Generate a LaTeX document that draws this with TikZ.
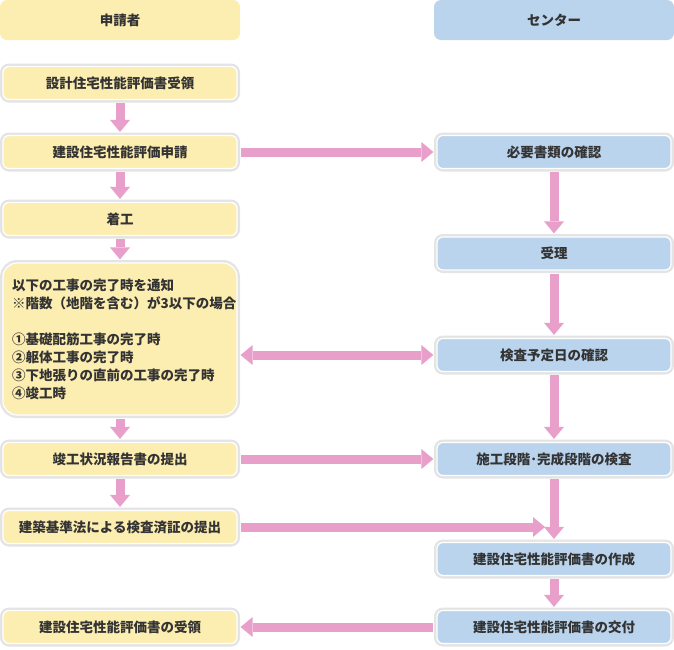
\documentclass[tikz,border=0pt]{standalone}
\usepackage{fontspec}
\setmainfont{Noto Sans CJK JP}
\usetikzlibrary{arrows.meta}
\definecolor{yel}{HTML}{FCEDB1}
\definecolor{blu}{HTML}{BAD4EE}
\definecolor{gry}{HTML}{E4E4E4}
\definecolor{pnk}{HTML}{E8A0CA}
\definecolor{txt}{HTML}{333333}
\begin{document}
\begin{tikzpicture}[x=1pt,y=-1pt,
  every node/.style={font=\fontsize{13.5}{18}\selectfont\bfseries, text=txt},
  hdr/.style={rounded corners=7pt, minimum width=240pt, minimum height=40pt, inner sep=0pt},
  box/.style={rounded corners=6pt, minimum width=234pt, minimum height=33pt, inner sep=0pt, draw=white, line width=1.2pt, preaction={draw=gry, line width=6pt}},
  ybox/.style={box, fill=yel},
  bbox/.style={box, fill=blu},
  flow/.style={draw=pnk, line width=9pt, -{Triangle[width=20pt,length=12pt,line width=0pt]}, shorten <=3pt, shorten >=3pt},
  flow2/.style={draw=pnk, line width=9pt, {Triangle[width=20pt,length=12pt,line width=0pt]}-{Triangle[width=20pt,length=12pt,line width=0pt]}, shorten <=3pt, shorten >=3pt},
]
\useasboundingbox (0,0) rectangle (674,649);
% headers
\node[hdr, fill=yel] (h1) at (120,20) {申請者};
\node[hdr, fill=blu] (h2) at (554,20) {センター};
% left column
\node[ybox] (L1) at (120,83) {設計住宅性能評価書受領};
\node[ybox] (L2) at (120,152) {建設住宅性能評価申請};
\node[ybox] (L3) at (120,219) {着工};
\node[ybox, rounded corners=14pt, minimum height=152pt] (L4) at (120,339) {};
\node[anchor=west, align=left, inner sep=0pt] (L4t) at (12,339) {以下の工事の完了時を通知\\※階数（地階を含む）が3以下の場合\\[18pt]①基礎配筋工事の完了時\\②躯体工事の完了時\\③下地張りの直前の工事の完了時\\④竣工時};
\node[ybox] (L5) at (120,459) {竣工状況報告書の提出};
\node[ybox] (L6) at (120,527) {建築基準法による検査済証の提出};
\node[ybox] (L7) at (120,627) {建設住宅性能評価書の受領};
% right column
\node[bbox] (R1) at (554,152) {必要書類の確認};
\node[bbox] (R2) at (554,253.5) {受理};
\node[bbox] (R3) at (554,355) {検査予定日の確認};
\node[bbox] (R4) at (554,459) {施工段階･完成段階の検査};
\node[bbox] (R5) at (554,559) {建設住宅性能評価書の作成};
\node[bbox] (R6) at (554,627) {建設住宅性能評価書の交付};
\coordinate (c6) at (545,527);
% connectors
\draw[flow] (L1.south) -- (L2.north);
\draw[flow] (L2.south) -- (L3.north);
\draw[flow] (L3.south) -- (L4.north);
\draw[flow] (L4.south) -- (L5.north);
\draw[flow] (L5.south) -- (L6.north);
\draw[flow] (L2.east) -- (R1.west);
\draw[flow2] (L4.east |- R3.west) -- (R3.west);
\draw[flow] (L5.east) -- (R4.west);
\draw[flow, shorten >=0pt] (L6.east) -- (c6);
\draw[flow] (R1.south) -- (R2.north);
\draw[flow] (R2.south) -- (R3.north);
\draw[flow] (R3.south) -- (R4.north);
\draw[flow] (R4.south) -- (R5.north);
\draw[flow] (R5.south) -- (R6.north);
\draw[flow] (R6.west) -- (L7.east);
\end{tikzpicture}
\end{document}
